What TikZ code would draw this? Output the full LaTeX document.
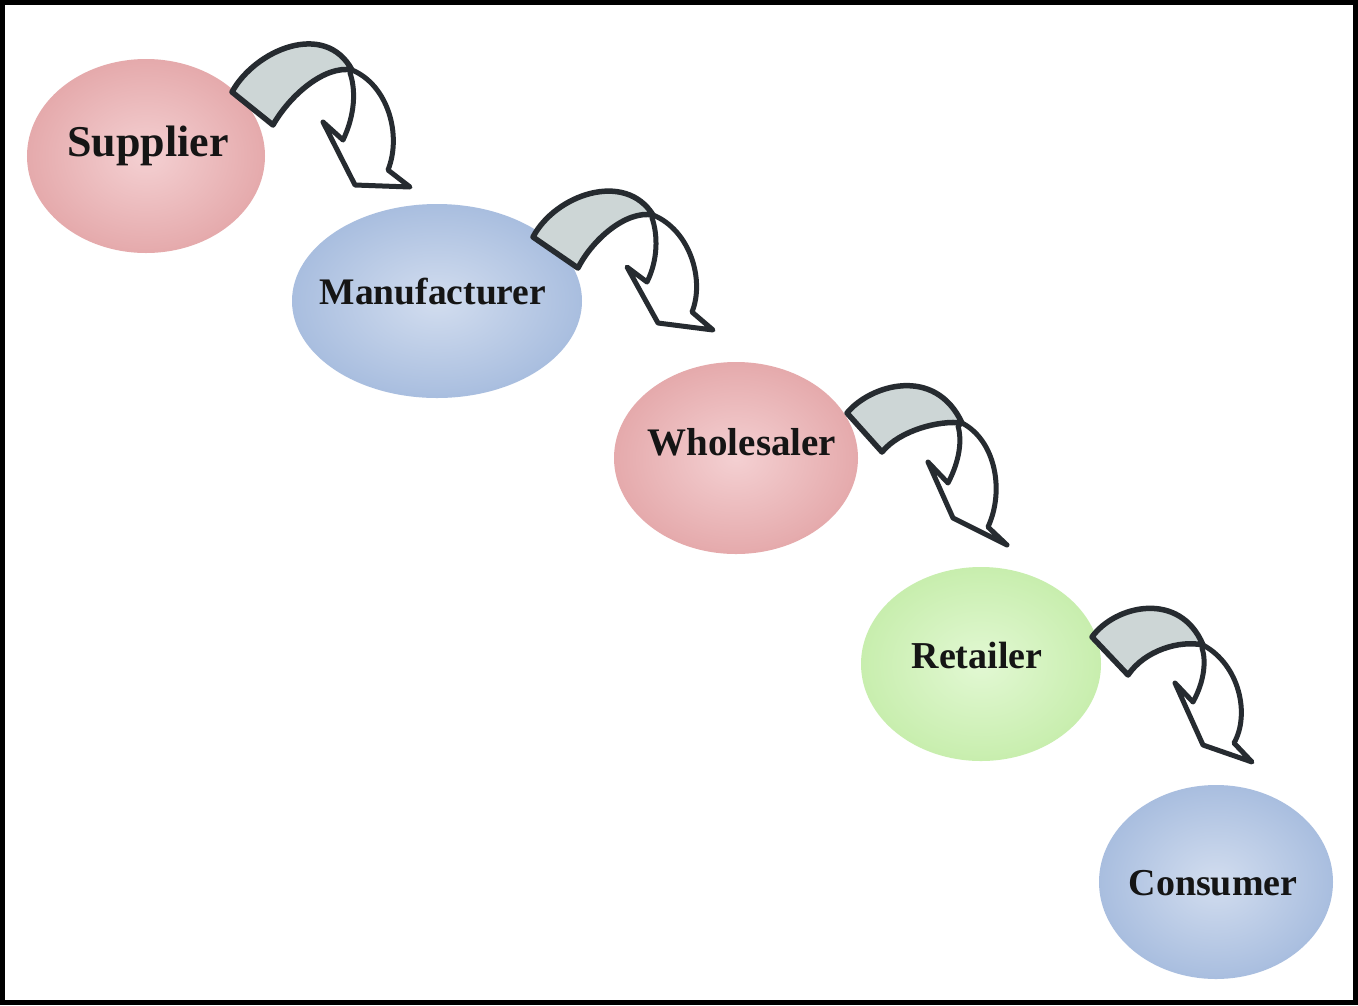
\documentclass[tikz,border=0pt]{standalone}
\usepackage{fontspec}
\setmainfont{Liberation Serif}
\usetikzlibrary{shapes.geometric}
\definecolor{pinkedge}{HTML}{E5AAAC}
\definecolor{pinkin}{HTML}{F4D0D2}
\definecolor{blueedge}{HTML}{A9BEDF}
\definecolor{bluein}{HTML}{D2DDEF}
\definecolor{greenedge}{HTML}{C8EEAE}
\definecolor{greenin}{HTML}{E2F8D3}
\definecolor{bandfill}{HTML}{CDD6D6}
\definecolor{arrline}{HTML}{262B30}
\definecolor{txt}{HTML}{151515}
\tikzset{
  stage/.style={ellipse, inner sep=0pt, line width=2pt},
  pinkstage/.style={stage, draw=pinkedge, inner color=pinkin, outer color=pinkedge},
  bluestage/.style={stage, draw=blueedge, inner color=bluein, outer color=blueedge},
  greenstage/.style={stage, draw=greenedge, inner color=greenin, outer color=greenedge},
  lbl/.style={font=\bfseries\fontsize{38}{40}\selectfont, text=txt, inner sep=0pt},
  band/.style={fill=bandfill, draw=arrline, line width=5.5pt, line join=round},
  hook/.style={fill=white, draw=arrline, line width=5pt, line join=round}
}
\begin{document}
\begin{tikzpicture}[x=1pt,y=-1pt]
\useasboundingbox (0,0) rectangle (1358,1005);
\fill[white] (0,0) rectangle (1358,1005);
\draw[line width=5pt] (2.5,2.5) rectangle (1355.5,1002.5);

% stages
\node[pinkstage, minimum width=236pt, minimum height=192pt] (sup) at (146,156) {};
\node[bluestage, minimum width=288pt, minimum height=192pt] (man) at (437,301) {};
\node[pinkstage, minimum width=242pt, minimum height=190pt] (who) at (736,458) {};
\node[greenstage, minimum width=238pt, minimum height=192pt] (ret) at (981,664) {};
\node[bluestage, minimum width=232pt, minimum height=192pt] (con) at (1216,882) {};

\node[lbl, font=\bfseries\fontsize{44}{46}\selectfont] (tsup) at (148,146) {Supplier};
\node[lbl, font=\bfseries\fontsize{37.5}{40}\selectfont] (tman) at (433,292) {Manufacturer};
\node[lbl, font=\bfseries\fontsize{39}{40}\selectfont] (twho) at (742,442) {Wholesaler};
\node[lbl] (tret) at (977,655) {Retailer};
\node[lbl] (tcon) at (1213,883) {Consumer};

% arrow 1
\draw[hook] (352,70) .. controls (388,85) and (402,135) .. (388,170) -- (410,187) -- (355,185) -- (323,122) -- (343,140) .. controls (355,115) and (356,90) .. (350,73) -- cycle;
\draw[band] (232,92) .. controls (255,50) and (325,20) .. (352,70) .. controls (325,65) and (290,95) .. (273,125) -- cycle;

% arrow 2
\draw[hook] (653,215) .. controls (690,230) and (705,280) .. (692,312) -- (713,330) -- (658,323) -- (627,267) -- (647,282) .. controls (658,260) and (658,235) .. (652,218) -- cycle;
\draw[band] (533,237) .. controls (555,195) and (625,170) .. (653,215) .. controls (626,210) and (592,240) .. (578,268) -- cycle;

% arrow 3
\draw[hook] (962,423) .. controls (995,440) and (1005,490) .. (988,527) -- (1007,545) -- (953,518) -- (928,462) -- (948,483) .. controls (960,460) and (962,440) .. (958,426) -- cycle;
\draw[band] (847,413) .. controls (870,385) and (935,365) .. (962,423) .. controls (940,420) and (900,430) .. (882,452) -- cycle;

% arrow 4
\draw[hook] (1203,645) .. controls (1240,665) and (1250,715) .. (1234,743) -- (1252,762) -- (1203,745) -- (1175,683) -- (1193,702) .. controls (1205,680) and (1206,660) .. (1202,648) -- cycle;
\draw[band] (1092,637) .. controls (1115,605) and (1180,590) .. (1203,645) .. controls (1180,640) and (1145,650) .. (1128,675) -- cycle;
\end{tikzpicture}
\end{document}
